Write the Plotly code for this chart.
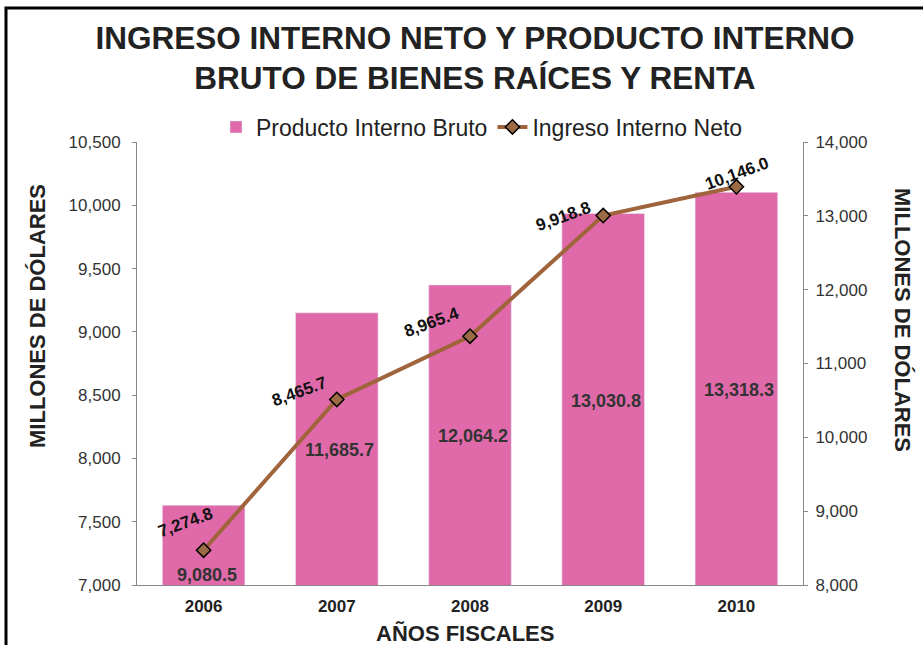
import plotly.graph_objects as go

years = ['2006', '2007', '2008', '2009', '2010']
pib = [9080.5, 11685.7, 12064.2, 13030.8, 13318.3]
iin = [7274.8, 8465.7, 8965.4, 9918.8, 10146.0]

FONT = "Liberation Sans, Arial, sans-serif"
PINK = "#E06AA9"
BROWN = "#A0643C"

# plot area in pixels: left 137, right 803, top 142, bottom 585
L, R, T, B = 137, 120, 142, 60
W, H = 923, 645
pw, ph = W - L - R, H - T - B


def px(x):
    return (x - L) / pw


def py(y):
    return (H - B - y) / ph


# label offsets (pixels) for the data labels
bar_shift = [-70, -137, -151, -187, -198]
line_dx = [-18, -37, -39, -40, 1]
line_dy = [28, 8, 14, -1, 13]

fig = go.Figure()

fig.add_trace(go.Bar(
    x=years, y=pib, name="Producto Interno Bruto",
    marker_color=PINK, yaxis='y'
))

fig.add_trace(go.Scatter(
    x=years, y=iin, name="Ingreso Interno Neto", yaxis='y2',
    mode='lines+markers',
    line=dict(color=BROWN, width=4),
    marker=dict(symbol='diamond', size=11, color="#9C6B45",
                line=dict(color='black', width=1.5))
))

annotations = []
for i, (yi, s) in enumerate(zip(pib, bar_shift)):
    annotations.append(dict(
        x=i, y=yi, xref='x', yref='y', yshift=s, xshift=3,
        text="{:,.1f}".format(yi), showarrow=False,
        font=dict(family=FONT, size=18, color="#333333", weight='bold')
    ))

for i, (yi, dx, dy) in enumerate(zip(iin, line_dx, line_dy)):
    annotations.append(dict(
        x=i, y=yi, xref='x', yref='y2', xshift=dx, yshift=dy,
        text="{:,.1f}".format(yi), showarrow=False, textangle=-20,
        font=dict(family=FONT, size=17, color="#111111", weight='bold')
    ))

annotations.append(dict(
    x=px(37), y=py(316), xref='paper', yref='paper', showarrow=False,
    xanchor='center', yanchor='middle',
    text="MILLONES DE DÓLARES", textangle=-90,
    font=dict(family=FONT, size=22, color="#222222", weight='bold')
))
annotations.append(dict(
    x=px(903), y=py(320), xref='paper', yref='paper', showarrow=False,
    xanchor='center', yanchor='middle',
    text="MILLONES DE DÓLARES", textangle=90,
    font=dict(family=FONT, size=22, color="#222222", weight='bold')
))
annotations.append(dict(
    x=px(465), y=py(633), xref='paper', yref='paper', showarrow=False,
    xanchor='center', yanchor='middle',
    text="AÑOS FISCALES",
    font=dict(family=FONT, size=22, color="#222222", weight='bold')
))

axis_style = dict(
    showline=True, linecolor="#888888", linewidth=1,
    ticks='outside', ticklen=4, tickcolor="#888888",
    showgrid=False, zeroline=False,
    tickfont=dict(family=FONT, size=17, color="#333333"),
    tickformat=',d'
)

fig.update_layout(
    width=W, height=H,
    margin=dict(l=L, r=R, t=T, b=B),
    paper_bgcolor='white', plot_bgcolor='white',
    title=dict(
        text="INGRESO INTERNO NETO Y PRODUCTO INTERNO<br>BRUTO DE BIENES RAÍCES Y RENTA",
        x=px(475), xref='paper', xanchor='center',
        y=1 - 48.5 / H, yref='container', yanchor='middle',
        font=dict(family=FONT, size=31.5, color="#222222", weight='bold')
    ),
    bargap=0.38,
    showlegend=True,
    legend=dict(
        orientation='h', x=px(482), xanchor='center',
        y=py(127), yanchor='middle',
        font=dict(family=FONT, size=23, color="#222222"),
        traceorder='normal', itemwidth=30
    ),
    xaxis=dict(
        type='category', range=[-0.5, 4.5],
        showline=True, linecolor="#888888", linewidth=1,
        ticks='', showgrid=False,
        tickfont=dict(family=FONT, size=17, color="#222222", weight='bold'),
        ticklabelstandoff=6
    ),
    yaxis=dict(side='right', range=[8000, 14000], dtick=1000,
               ticklabelstandoff=4, **axis_style),
    yaxis2=dict(side='left', overlaying='y', anchor='x',
                range=[7000, 10500], dtick=500,
                ticklabelstandoff=8, **axis_style),
    annotations=annotations,
    shapes=[dict(
        type='rect', xref='paper', yref='paper',
        x0=px(6), x1=px(935), y0=py(660), y1=py(8),
        line=dict(color='black', width=3), fillcolor='rgba(0,0,0,0)',
        layer='below'
    )]
)

fig.write_html("out.html", config={'displayModeBar': False},
               post_script="document.body.style.margin='0';")
